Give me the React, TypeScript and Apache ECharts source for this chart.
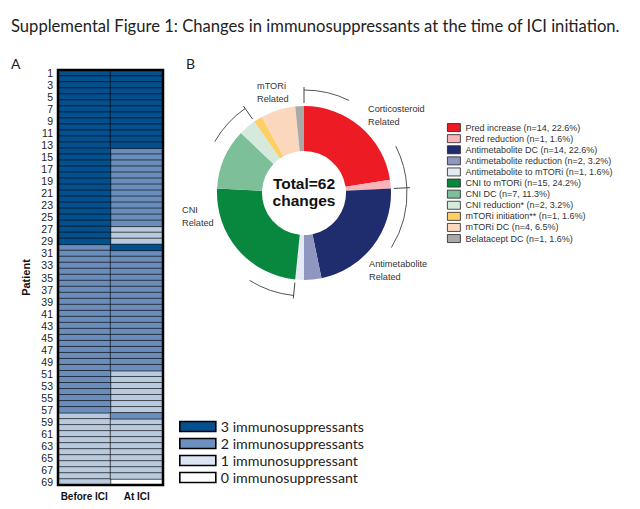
import React, { useEffect, useRef } from "react";
import * as echarts from "echarts";

// ---------- Panel A data ----------
const columns = ["Before ICI", "At ICI"];
const patients = [
  "1","2","3","4","5","6","7","8","9","10","11","12","13","14","15","16","17","18","19","20",
  "21","22","23","24","25","26","27","28","29","30","31","32","33","34","35","36","37","38","39","40",
  "41","42","43","44","45","46","47","48","49","50","51","52","53","54","55","56","57","58","59","60",
  "61","62","63","64","65","66","67","68","69",
];
const beforeICI = [
  3,3,3,3,3,3,3,3,3,3, 3,3,3,3,3,3,3,3,3,3, 3,3,3,3,3,3,3,3,3,2,
  2,2,2,2,2,2,2,2,2,2, 2,2,2,2,2,2,2,2,2,2, 2,2,2,2,2,2,2,1,1,1,
  1,1,1,1,1,1,1,1,1,
];
const atICI = [
  3,3,3,3,3,3,3,3,3,3, 3,3,3,2,2,2,2,2,2,2, 2,2,2,2,2,2,1,1,1,3,
  2,2,2,2,2,2,2,2,2,2, 2,2,2,2,2,2,2,2,2,2, 1,1,1,1,1,1,1,2,1,1,
  1,1,1,1,1,1,1,1,0,
];
const levelNames = ["0 immunosuppressant", "1 immunosuppressant", "2 immunosuppressants", "3 immunosuppressants"];
const levelColors = ["#ffffff", "#b9cadf", "#6a8dbc", "#03508f"];
const levelLegendColors = ["#ffffff", "#dbe5f3", "#6d8fbd", "#03508f"];

// ---------- Panel B data ----------
const changeNames = [
  "Pred increase",
  "Pred reduction",
  "Antimetabolite DC",
  "Antimetabolite reduction",
  "Antimetabolite to mTORi",
  "CNI to mTORi",
  "CNI DC",
  "CNI reduction*",
  "mTORi initiation**",
  "mTORi DC",
  "Belatacept DC",
];
const changeCounts = [14, 1, 14, 2, 1, 15, 7, 2, 1, 4, 1];
const changeColors = [
  "#ed1c24", "#f8b4b9", "#1f2c6d", "#8f97c0", "#e4e9f4",
  "#08873f", "#7cbf98", "#d5eadd", "#fdcf66", "#fbd8bd", "#a9a9a9",
];
const groupLabels = ["Corticosteroid\nRelated", "Antimetabolite\nRelated", "CNI\nRelated", "mTORi\nRelated"];
const groupSizes = [2, 3, 3, 3];

export default function App() {
  const ref = useRef<HTMLDivElement>(null);
  useEffect(() => {
    if (!ref.current) return;
    const chart = echarts.init(ref.current, null, { renderer: "svg" });

    const total = changeCounts.reduce((a, b) => a + b, 0);
    const cx = 304, cy = 193;

    const bounds: number[] = [90];
    let idx = 0;
    let ang = 90;
    groupSizes.forEach((n) => {
      let s = 0;
      for (let k = 0; k < n; k++) s += changeCounts[idx + k];
      idx += n;
      ang -= (s / total) * 360;
      bounds.push(ang);
    });
    const rad = (d: number) => (d * Math.PI) / 180;
    const rArc = 103;
    const arcSpans: [number, number][] = [
      [bounds[0], 64],
      [27, bounds[1]],
      [bounds[1], -32],
      [bounds[2], -122],
      [-210, bounds[3]],
    ];
    const graphics: any[] = [];
    arcSpans.forEach(([a1, a2]) => {
      graphics.push({
        type: "arc",
        silent: true,
        shape: { cx, cy, r: rArc, startAngle: rad(-a1), endAngle: rad(-a2), clockwise: true },
        style: { stroke: "#555", lineWidth: 1, fill: null },
      });
    });
    [bounds[0], bounds[1], bounds[2], bounds[3]].forEach((a) => {
      const c = Math.cos(rad(a)), s = Math.sin(rad(a));
      graphics.push({
        type: "line",
        silent: true,
        shape: { x1: cx + 90 * c, y1: cy - 90 * s, x2: cx + 106 * c, y2: cy - 106 * s },
        style: { stroke: "#444", lineWidth: 1 },
      });
    });
    const groupPos = [
      [368, 103],
      [369, 258],
      [182, 204],
      [257, 80],
    ];
    groupLabels.forEach((t, i) => {
      graphics.push({
        type: "text",
        silent: true,
        x: groupPos[i][0],
        y: groupPos[i][1],
        style: {
          text: t,
          fill: "#333",
          fontSize: 9.2,
          lineHeight: 12.5,
          fontFamily: "Liberation Sans, Arial",
        },
      });
    });
    graphics.push({
      type: "text",
      silent: true,
      x: cx,
      y: cy - 1,
      z: 10,
      style: {
        text: `Total=${total}\nchanges`,
        fill: "#111",
        fontSize: 15.5,
        fontWeight: "bold",
        lineHeight: 17,
        align: "center",
        verticalAlign: "middle",
        fontFamily: "Liberation Sans, Arial",
      },
    });
    graphics.push({
      type: "text", silent: true, x: 11, y: 56,
      style: { text: "A", fill: "#222", fontSize: 14, fontFamily: "Lato" },
    });
    graphics.push({
      type: "text", silent: true, x: 186, y: 56,
      style: { text: "B", fill: "#222", fontSize: 14, fontFamily: "Lato" },
    });
    graphics.push({
      type: "rect", silent: true, z: 100,
      shape: { x: 58, y: 70, width: 105, height: 415 },
      style: { fill: null, stroke: "#000", lineWidth: 2.5 },
    });

    const heatSeries = levelNames.map((nm, lv) => {
      const data: number[][] = [];
      beforeICI.forEach((v, i) => { if (v === lv) data.push([0, i, v]); });
      atICI.forEach((v, i) => { if (v === lv) data.push([1, i, v]); });
      return {
        type: "heatmap",
        name: nm,
        xAxisIndex: 0,
        yAxisIndex: 0,
        data,
        silent: true,
        itemStyle: { borderColor: "rgba(0,0,0,0.85)", borderWidth: 0.7 },
        emphasis: { disabled: true },
      };
    });

    chart.setOption({
      animation: false,
      title: {
        text: "Supplemental Figure 1: Changes in immunosuppressants at the time of ICI initiation.",
        left: 11,
        top: 17,
        padding: 0,
        textStyle: { fontFamily: "Lato", fontSize: 16.6, fontWeight: "normal", color: "#222" },
      },
      grid: { left: 58, top: 70, width: 105, height: 415 },
      xAxis: {
        type: "category",
        data: columns,
        axisLine: { show: false },
        axisTick: { show: false },
        splitLine: { show: false },
        axisLabel: { interval: 0, fontSize: 10, fontWeight: "bold", color: "#111", margin: 6, fontFamily: "Liberation Sans, Arial" },
      },
      yAxis: {
        type: "category",
        data: patients,
        inverse: true,
        axisLine: { show: false },
        axisTick: { show: false },
        splitLine: { show: false },
        axisLabel: { interval: 1, fontSize: 10.5, color: "#222", margin: 5, fontFamily: "Liberation Sans, Arial" },
        name: "Patient",
        nameLocation: "middle",
        nameRotate: 90,
        nameGap: 27,
        nameTextStyle: { fontSize: 11, fontWeight: "bold", color: "#111", fontFamily: "Liberation Sans, Arial" },
      },
      visualMap: {
        type: "piecewise",
        show: false,
        dimension: 2,
        seriesIndex: [0, 1, 2, 3],
        pieces: levelColors.map((c, lv) => ({ value: lv, color: c })),
      },
      legend: [
        {
          data: changeNames.map((n) => ({ name: n })),
          orient: "vertical",
          left: 447,
          top: 122,
          padding: 0,
          itemWidth: 13,
          itemHeight: 8,
          itemGap: 0,
          icon: "rect",
          selectedMode: false,
          itemStyle: { borderColor: "#222", borderWidth: 0.8 },
          formatter: (name: string) => {
            const i = changeNames.indexOf(name);
            const v = changeCounts[i];
            return `${name} (n=${v}, ${((v / total) * 100).toFixed(1)}%)`;
          },
          textStyle: { fontSize: 9, color: "#333", lineHeight: 11.1, fontFamily: "Liberation Sans, Arial" },
        },
        {
          data: [3, 2, 1, 0].map((lv) => ({
            name: levelNames[lv],
            itemStyle: { color: levelLegendColors[lv] },
          })),
          orient: "vertical",
          left: 179,
          top: 419,
          padding: 0,
          itemWidth: 36,
          itemHeight: 10,
          itemGap: 2,
          icon: "rect",
          selectedMode: false,
          itemStyle: { borderColor: "#000", borderWidth: 1.6 },
          textStyle: { fontSize: 14.2, color: "#222", lineHeight: 15, fontFamily: "Lato" },
        },
      ],
      graphic: graphics,
      series: [
        ...heatSeries,
        {
          type: "pie",
          name: "changes",
          radius: [42, 87],
          center: [cx, cy],
          startAngle: 90,
          clockwise: true,
          silent: true,
          label: { show: false },
          labelLine: { show: false },
          emphasis: { disabled: true },
          data: changeNames.map((n, i) => ({
            name: n,
            value: changeCounts[i],
            itemStyle: { color: changeColors[i] },
          })),
        },
      ],
    });
    return () => chart.dispose();
  }, []);
  return (
    <div
      ref={ref}
      style={{ position: "absolute", left: 0, top: 0, width: 640, height: 509, background: "#fff" }}
    />
  );
}
